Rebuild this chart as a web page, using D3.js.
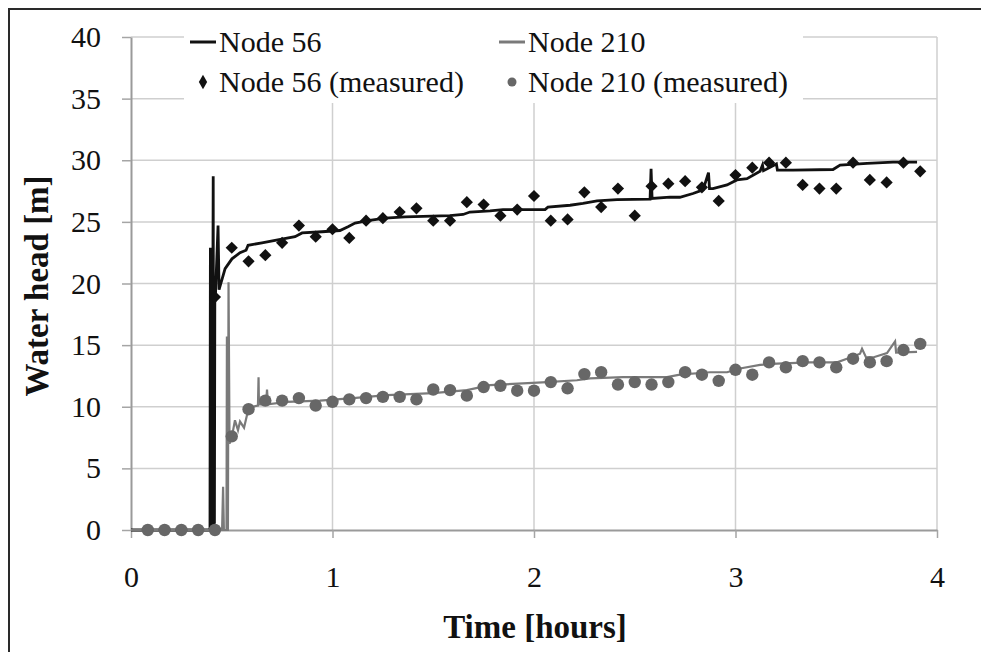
<!DOCTYPE html>
<html>
<head>
<meta charset="utf-8">
<script src="https://cdn.jsdelivr.net/npm/d3@7"></script>
<style>
  html, body { margin: 0; padding: 0; background: #fff; }
  svg { display: block; }
  text { font-family: "Liberation Serif", "DejaVu Serif", serif; fill: #111; }
</style>
</head>
<body>
<svg id="chart" width="981" height="652"></svg>
<script>
// Sampling instants of the field measurements (minutes after start)
const sampleMinutes = [5, 10, 15, 20, 25, 30, 35, 40, 45, 50, 55, 60, 65, 70, 75, 80,
  85, 90, 95, 100, 105, 110, 115, 120, 125, 130, 135, 140, 145, 150, 155, 160,
  165, 170, 175, 180, 185, 190, 195, 200, 205, 210, 215, 220, 225, 230, 235];

// Measured water heads [m]
const node56Measured = [0, 0, 0, 0, 18.9, 22.9, 21.8, 22.3, 23.3, 24.7, 23.8, 24.4,
  23.7, 25.1, 25.3, 25.8, 26.1, 25.1, 25.1, 26.6, 26.4, 25.5, 26.0, 27.1, 25.1,
  25.2, 27.4, 26.2, 27.7, 25.5, 27.9, 28.1, 28.3, 27.8, 26.7, 28.8, 29.4, 29.8,
  29.8, 28.0, 27.7, 27.7, 29.8, 28.4, 28.2, 29.8, 29.1];
const node210Measured = [0, 0, 0, 0, 0, 7.6, 9.8, 10.5, 10.5, 10.7, 10.1, 10.4,
  10.6, 10.7, 10.8, 10.8, 10.6, 11.4, 11.35, 10.9, 11.6, 11.7, 11.3, 11.3, 12.0,
  11.5, 12.65, 12.8, 11.8, 12.0, 11.8, 12.0, 12.8, 12.6, 12.1, 13.0, 12.6, 13.6,
  13.2, 13.7, 13.6, 13.2, 13.9, 13.6, 13.7, 14.6, 15.1];

// Simulated water head, Node 56 (time [h], head [m])
const node56SimT = [0, 0.392, 0.394, 0.396, 0.398, 0.400, 0.402, 0.404, 0.406, 0.408,
  0.410, 0.412, 0.414, 0.416, 0.419, 0.432, 0.437, 0.467, 0.501,
  0.541, 0.571, 0.581, 0.650, 0.715, 0.814, 0.849, 0.948, 1.037, 1.077, 1.112, 1.176,
  1.261, 1.360, 1.583, 1.648, 1.682, 1.782, 1.846, 2.055, 2.069, 2.179, 2.243, 2.313,
  2.412, 2.576, 2.581, 2.586, 2.675, 2.724, 2.789, 2.839, 2.866, 2.871, 2.888, 2.958,
  3.007, 3.057, 3.122, 3.134, 3.139, 3.203, 3.208, 3.285, 3.484, 3.519, 3.653, 3.782, 3.901];
const node56SimV = [0, 0, 22.9, 0, 19.0, 0, 19.0, 0, 19.0, 28.7,
  0, 19.0, 0.5, 19.0, 19.0, 24.7, 19.5, 21.2, 22.0,
  22.5, 22.7, 23.1, 23.3, 23.5, 23.8, 24.1, 24.2, 24.3, 24.6, 24.9, 25.1,
  25.3, 25.4, 25.5, 25.6, 25.8, 25.9, 26.0, 26.0, 26.2, 26.35, 26.5, 26.7,
  26.8, 26.85, 29.3, 26.9, 27.0, 27.0, 27.3, 27.6, 29.0, 27.7, 27.7, 28.0,
  28.4, 28.5, 29.1, 29.6, 29.15, 29.7, 29.2, 29.2, 29.25, 29.6, 29.75, 29.85, 29.85];

// Simulated water head, Node 210 (time [h], head [m])
const node210SimT = [0, 0.452, 0.457, 0.461, 0.474, 0.476, 0.479, 0.481, 0.484, 0.489,
  0.501, 0.516, 0.531, 0.541, 0.561, 0.581, 0.605, 0.630, 0.633, 0.635, 0.670, 0.675,
  0.680, 0.774, 0.938, 1.102, 1.270, 1.499, 1.667, 1.782, 1.945, 2.065, 2.213, 2.278,
  2.442, 2.660, 2.724, 2.873, 2.958, 3.022, 3.122, 3.206, 3.370, 3.504, 3.553, 3.618,
  3.628, 3.648, 3.682, 3.752, 3.792, 3.797, 3.901];
const node210SimV = [0, 0, 3.5, 0, 0, 15.7, 0, 0, 20.1, 7.0,
  7.6, 8.9, 8.1, 8.8, 8.3, 9.7, 10.0, 10.1, 12.4, 10.2, 10.2, 11.4,
  10.2, 10.4, 10.5, 10.7, 10.95, 11.1, 11.35, 11.75, 11.9, 12.0, 12.15, 12.3,
  12.4, 12.4, 12.6, 12.8, 12.8, 13.1, 13.4, 13.5, 13.6, 13.6, 13.9, 14.3,
  14.7, 14.0, 14.0, 14.35, 15.3, 14.4, 14.45];

const xTicks = [0, 1, 2, 3, 4];
const yTicks = [0, 5, 10, 15, 20, 25, 30, 35, 40];

const legendItems = [
  { label: "Node 56", kind: "line", color: "#111" },
  { label: "Node 210", kind: "line", color: "#7a7a7a" },
  { label: "Node 56 (measured)", kind: "diamond", color: "#111" },
  { label: "Node 210 (measured)", kind: "circle", color: "#676767" }
];

const svg = d3.select("#chart");

// Outer frame
svg.append("path")
  .attr("d", "M9,652 V9 H981")
  .attr("fill", "none").attr("stroke", "#2a2a2a").attr("stroke-width", 2);

const x = d3.scaleLinear().domain([0, 4]).range([131, 937]);
const y = d3.scaleLinear().domain([0, 40]).range([530, 37]);

// Gridlines
const grid = svg.append("g");
grid.selectAll("line.h").data(yTicks.filter(v => v > 0)).join("line")
  .attr("x1", x(0)).attr("x2", x(4))
  .attr("y1", d => y(d)).attr("y2", d => y(d))
  .attr("stroke", "#cfcfcf").attr("stroke-width", 1.5);
grid.selectAll("line.v").data(xTicks.filter(v => v > 0)).join("line")
  .attr("y1", y(0)).attr("y2", y(40))
  .attr("x1", d => x(d)).attr("x2", d => x(d))
  .attr("stroke", "#cfcfcf").attr("stroke-width", 1.5);

// Axes
const xAxis = svg.append("g")
  .attr("transform", `translate(0,${y(0)})`)
  .call(d3.axisBottom(x).tickValues(xTicks).tickFormat(d3.format("d"))
    .tickSize(8).tickPadding(28).tickSizeOuter(0));
const yAxis = svg.append("g")
  .attr("transform", `translate(${x(0)},0)`)
  .call(d3.axisLeft(y).tickValues(yTicks).tickFormat(d3.format("d"))
    .tickSize(9).tickPadding(21).tickSizeOuter(0));
[xAxis, yAxis].forEach(a => {
  a.select(".domain").attr("stroke", "#9a9a9a").attr("stroke-width", 2);
  a.selectAll(".tick line").attr("stroke", "#a5a5a5").attr("stroke-width", 1.5);
  a.selectAll(".tick text")
    .attr("font-family", "Liberation Serif, serif")
    .attr("font-size", 30).attr("fill", "#222");
});

// Axis titles
svg.append("text")
  .attr("x", 535).attr("y", 638)
  .attr("text-anchor", "middle")
  .attr("font-size", 33).attr("font-weight", "bold")
  .text("Time [hours]");
svg.append("text")
  .attr("transform", "translate(48,286) rotate(-90)")
  .attr("text-anchor", "middle")
  .attr("font-size", 33).attr("font-weight", "bold")
  .text("Water head [m]");

// Simulated heads (Node 210 drawn last so its zero run sits on top)
const line = d3.line().x(d => x(d[0])).y(d => y(d[1]));
const node210Sim = node210SimT.map((t, i) => [t, node210SimV[i]]);
const node56Sim = node56SimT.map((t, i) => [t, node56SimV[i]]);

svg.append("path").datum(node56Sim)
  .attr("d", line).attr("fill", "none")
  .attr("stroke", "#111").attr("stroke-width", 2.8)
  .attr("stroke-linejoin", "miter");
svg.append("path").datum(node210Sim)
  .attr("d", line).attr("fill", "none")
  .attr("stroke", "#7a7a7a").attr("stroke-width", 2.2)
  .attr("stroke-linejoin", "miter");

// Measured heads
const diamond = d3.symbol().type(d3.symbolDiamond2).size(95);
const hours = sampleMinutes.map(m => m / 60);

svg.append("g").selectAll("path")
  .data(node56Measured.map((v, i) => [hours[i], v]))
  .join("path")
  .attr("d", diamond)
  .attr("transform", d => `translate(${x(d[0])},${y(d[1])})`)
  .attr("fill", "#111");

svg.append("g").selectAll("circle")
  .data(node210Measured.map((v, i) => [hours[i], v]))
  .join("circle")
  .attr("cx", d => x(d[0])).attr("cy", d => y(d[1]))
  .attr("r", 6.2)
  .attr("fill", "#676767");

// Legend
const legend = svg.append("g");
legend.append("rect")
  .attr("x", 184).attr("y", 18).attr("width", 619).attr("height", 85)
  .attr("fill", "#fff");
const legendPos = [
  { x: 190, y: 42 }, { x: 499, y: 42 },
  { x: 190, y: 82 }, { x: 499, y: 82 }
];
legendItems.forEach((item, i) => {
  const p = legendPos[i];
  const g = legend.append("g").attr("transform", `translate(${p.x},${p.y})`);
  if (item.kind === "line") {
    g.append("line").attr("x1", 0).attr("x2", 26).attr("y1", 0).attr("y2", 0)
      .attr("stroke", item.color).attr("stroke-width", 3);
  } else if (item.kind === "diamond") {
    g.append("path").attr("d", d3.symbol().type(d3.symbolDiamond).size(60))
      .attr("transform", "translate(13,0)").attr("fill", item.color);
  } else {
    g.append("circle").attr("cx", 13).attr("cy", 0).attr("r", 4.5).attr("fill", item.color);
  }
  g.append("text")
    .attr("x", 29).attr("y", 10)
    .attr("font-size", 30)
    .text(item.label);
});
</script>
</body>
</html>
